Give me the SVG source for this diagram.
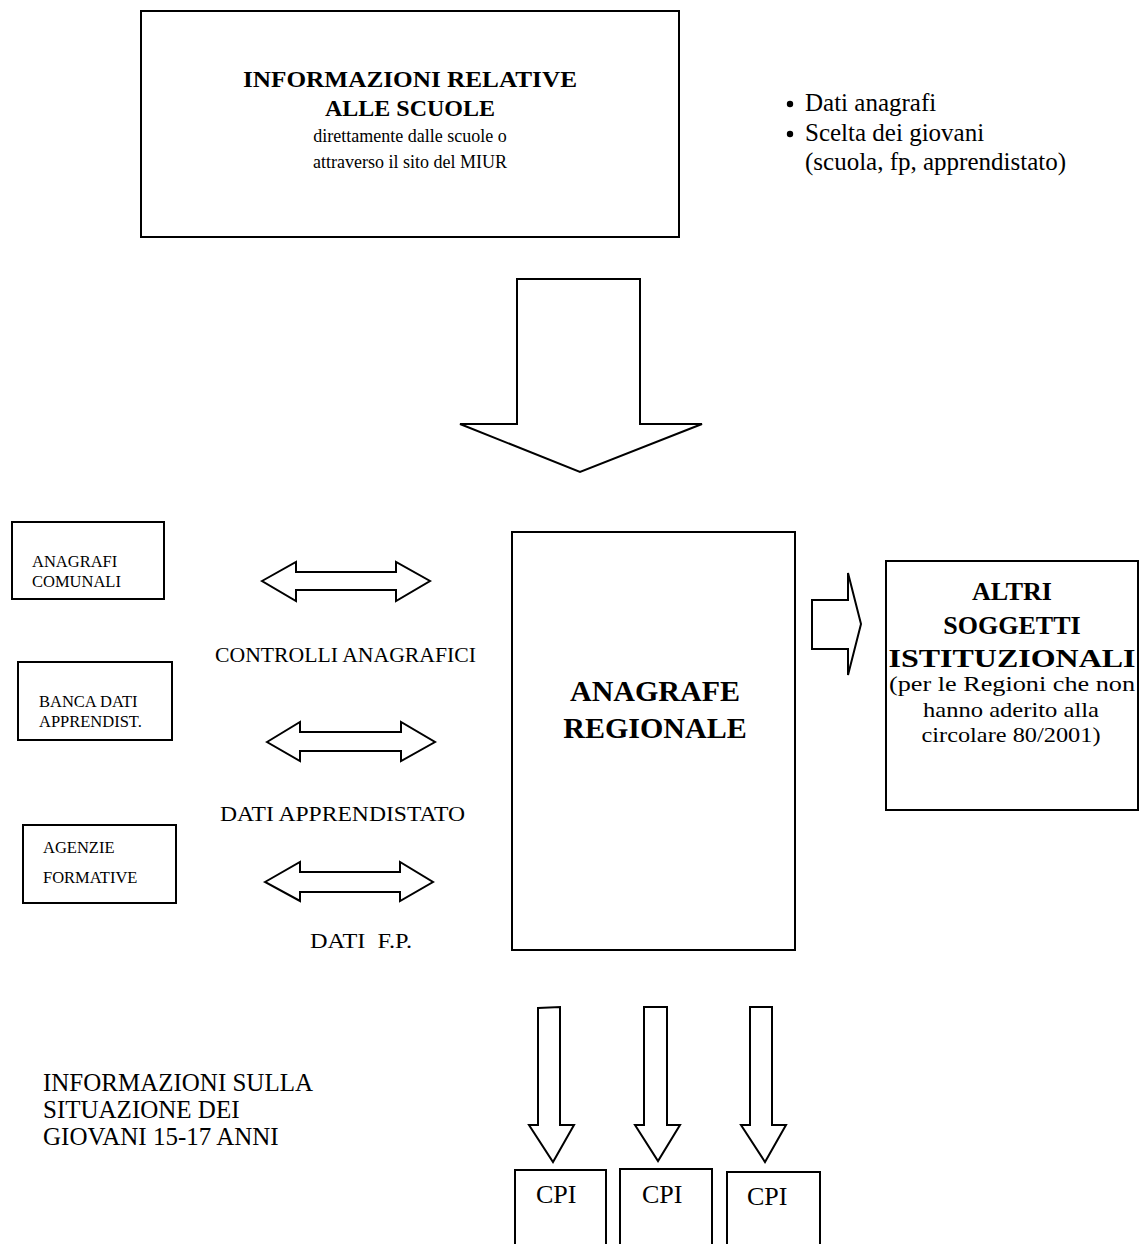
<svg xmlns="http://www.w3.org/2000/svg" width="1139" height="1244" viewBox="0 0 1139 1244">
<style>
.box{fill:#fff;stroke:#000;stroke-width:2}
.arr{fill:#fff;stroke:#000;stroke-width:2;stroke-linejoin:miter}
text{font-family:"Liberation Serif","Times New Roman",serif;fill:#000}
.b{font-weight:bold}
.c{text-anchor:middle}
.sm{font-size:16.5px}
.lbl{font-size:22px}
.cpi{font-size:26px}
</style>
<rect width="1139" height="1244" fill="#fff"/>
<g id="scuole">
<rect class="box" x="141" y="11" width="538" height="226"/>
<text class="b c" x="410" y="87" font-size="24" textLength="334" lengthAdjust="spacingAndGlyphs">INFORMAZIONI RELATIVE</text>
<text class="b c" x="410" y="116" font-size="24">ALLE SCUOLE</text>
<text class="c" x="410" y="142" font-size="18">direttamente dalle scuole o</text>
<text class="c" x="410" y="168" font-size="18">attraverso il sito del MIUR</text>
</g>
<g id="bullets">
<circle cx="790" cy="104" r="3.2"/>
<text x="805" y="111" font-size="25">Dati anagrafi</text>
<circle cx="790" cy="134" r="3.2"/>
<text x="805" y="141" font-size="25">Scelta dei giovani</text>
<text x="805" y="170" font-size="25">(scuola, fp, apprendistato)</text>
</g>
<g id="anagrafi">
<rect class="box" x="12" y="522" width="152" height="77"/>
<text class="sm" x="32" y="567">ANAGRAFI</text>
<text class="sm" x="32" y="587">COMUNALI</text>
</g>
<g id="banca">
<rect class="box" x="18" y="662" width="154" height="78"/>
<text class="sm" x="39" y="707">BANCA DATI</text>
<text class="sm" x="39" y="727">APPRENDIST.</text>
</g>
<g id="agenzie">
<rect class="box" x="23" y="825" width="153" height="78"/>
<text class="sm" x="43" y="853">AGENZIE</text>
<text class="sm" x="43" y="883">FORMATIVE</text>
</g>
<g id="regionale">
<rect class="box" x="512" y="532" width="283" height="418"/>
<text class="b c" x="655" y="701" font-size="30">ANAGRAFE</text>
<text class="b c" x="655" y="738" font-size="30">REGIONALE</text>
</g>
<g id="altri">
<rect class="box" x="886" y="561" width="252" height="249"/>
<text class="b c" x="1012" y="600" font-size="26">ALTRI</text>
<text class="b c" x="1012" y="634" font-size="26">SOGGETTI</text>
<text class="b c" x="1012" y="667" font-size="26" textLength="247" lengthAdjust="spacingAndGlyphs">ISTITUZIONALI</text>
<text class="c" x="1012" y="691" font-size="21" textLength="246" lengthAdjust="spacingAndGlyphs">(per le Regioni che non</text>
<text class="c" x="1011" y="717" font-size="21" textLength="176" lengthAdjust="spacingAndGlyphs">hanno aderito alla</text>
<text class="c" x="1011" y="742" font-size="21" textLength="179" lengthAdjust="spacingAndGlyphs">circolare 80/2001)</text>
</g>
<g id="cpi1">
<rect class="box" x="515" y="1170" width="91" height="80"/>
<text class="cpi" x="536" y="1203">CPI</text>
</g>
<g id="cpi2">
<rect class="box" x="620" y="1169" width="92" height="80"/>
<text class="cpi" x="642" y="1203">CPI</text>
</g>
<g id="cpi3">
<rect class="box" x="727" y="1172" width="93" height="80"/>
<text class="cpi" x="747" y="1205">CPI</text>
</g>
<g id="info-giovani">
<text x="43" y="1091" font-size="25" textLength="270" lengthAdjust="spacingAndGlyphs">INFORMAZIONI SULLA</text>
<text x="43" y="1118" font-size="25">SITUAZIONE DEI</text>
<text x="43" y="1145" font-size="25">GIOVANI 15-17 ANNI</text>
</g>
<g id="connectors">
<polygon class="arr" points="517,279 640,279 640,424 702,424 580,472 460,424 517,424"/>
<polygon class="arr" points="262,581 296,562 296,572 396,572 396,562 430,581 396,601 396,590 296,590 296,601"/>
<text class="lbl" x="215" y="662" textLength="261" lengthAdjust="spacingAndGlyphs">CONTROLLI ANAGRAFICI</text>
<polygon class="arr" points="267,742 300,722 300,732 401,732 401,722 435,742 401,761 401,751 300,751 300,761"/>
<text class="lbl" x="220" y="821" textLength="245" lengthAdjust="spacingAndGlyphs">DATI APPRENDISTATO</text>
<polygon class="arr" points="265,882 300,862 300,872 400,872 400,862 433,882 400,901 400,892 300,892 300,901"/>
<text class="lbl" x="310" y="948" xml:space="preserve" textLength="102" lengthAdjust="spacingAndGlyphs">DATI  F.P.</text>
<polygon class="arr" points="812,600 848,600 848,573 861,624 848,675 848,649 812,649"/>
<polygon class="arr" points="538,1008 560,1007 560,1125 574,1125 553,1162 529,1125 538,1125"/>
<polygon class="arr" points="644,1007 667,1007 667,1125 680,1125 658,1161 635,1125 644,1125"/>
<polygon class="arr" points="750,1007 772,1007 772,1125 786,1125 765,1162 741,1125 750,1125"/>
</g>
</svg>
